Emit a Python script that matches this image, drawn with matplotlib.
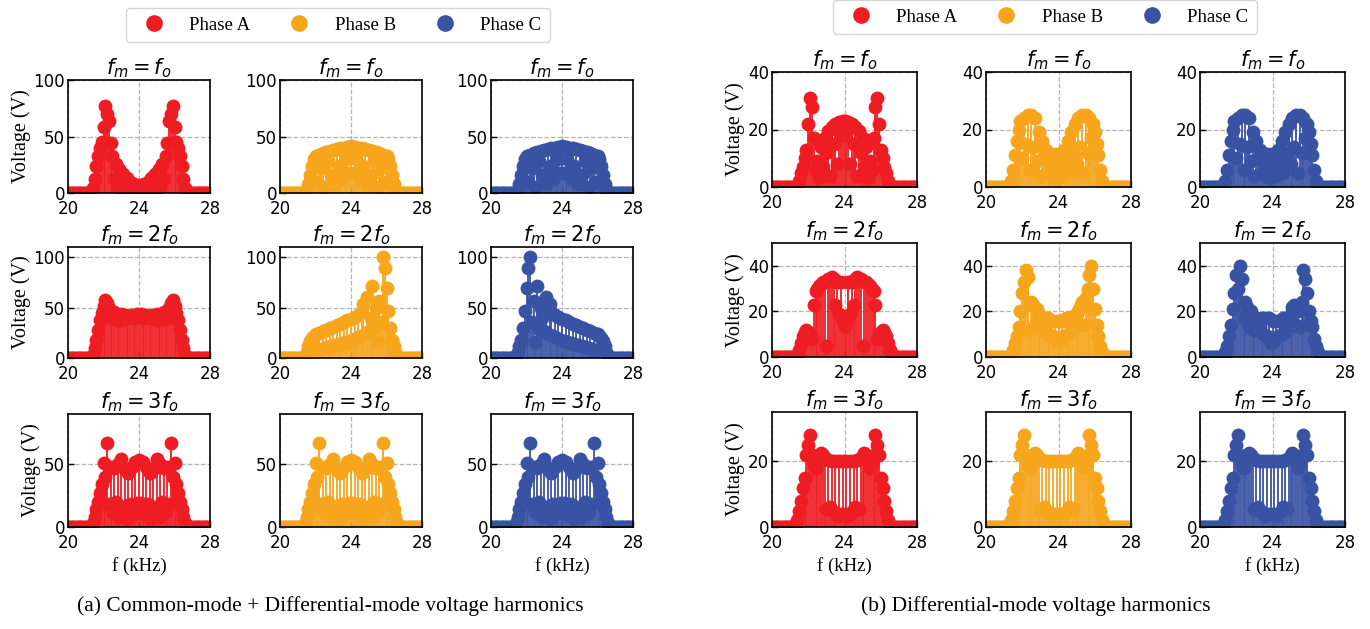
import numpy as np
import matplotlib
matplotlib.use("Agg")
import matplotlib.pyplot as plt

plt.rcParams['font.family'] = 'DejaVu Sans'
plt.rcParams['mathtext.fontset'] = 'dejavusans'

# harmonic frequencies in kHz, 0.1 kHz apart from 20 to 28
freq = np.arange(200, 281) / 10

# -----------------------------
# (a) common-mode + differential-mode harmonics (V)
# rows: 20.0-20.9 | 21.0-21.9 | ... | 26.0-26.9 | 27.0 | 27.1-28.0
# -----------------------------
cm_a1 = [0, 0, 0, 0, 0, 0, 0, 0, 0, 0,
         0, 0, 0, 0, 4, 12, 24, 33, 40, 45,
         58, 77, 70, 64, 44, 33, 12, 26, 5, 21,
         10, 17, 4, 13, 6, 10, 3, 8, 4, 7,
         6.5, 7, 4, 8, 3, 10, 6, 13, 4, 17,
         10, 21, 5, 26, 12, 33, 44, 64, 70, 77,
         58, 45, 40, 33, 24, 12, 4, 0, 0, 0,
         0,
         0, 0, 0, 0, 0, 0, 0, 0, 0, 0]

cm_b1 = [0, 0, 0, 0, 0, 0, 0, 0, 0, 0,
         0, 0, 0, 0, 0, 3, 8, 16, 24, 30,
         33, 10, 34, 22, 35, 5, 36, 28, 37, 16,
         38, 8, 39, 24, 40, 12, 40, 30, 41, 18,
         42, 18, 41, 30, 40, 12, 40, 24, 39, 8,
         38, 16, 37, 28, 36, 5, 35, 22, 34, 10,
         33, 30, 24, 16, 8, 3, 0, 0, 0, 0,
         0,
         0, 0, 0, 0, 0, 0, 0, 0, 0, 0]

cm_c1 = list(cm_b1)  # phase C reads the same as phase B here

cm_a2 = [0, 0, 0, 0, 0, 0, 0, 0, 0, 0,
         0, 0, 0, 0, 3, 10, 18, 28, 38, 45,
         52, 57, 55, 50, 44, 40, 46, 39, 43, 38,
         44, 39, 43, 40, 42, 41, 43, 40, 42, 44,
         43, 44, 42, 40, 43, 41, 42, 40, 43, 39,
         44, 38, 43, 39, 46, 40, 44, 50, 55, 57,
         52, 45, 38, 28, 18, 10, 3, 0, 0, 0,
         0,
         0, 0, 0, 0, 0, 0, 0, 0, 0, 0]

cm_b2 = [0, 0, 0, 0, 0, 0, 0, 0, 0, 0,
         0, 0, 0, 0, 2, 6, 12, 17, 20, 22,
         24, 8, 25, 9, 27, 10, 28, 11, 30, 12,
         31, 13, 33, 14, 34, 15, 36, 16, 38, 17,
         39, 18, 41, 20, 43, 22, 46, 54, 24, 60,
         27, 40, 71, 29, 50, 16, 56, 36, 100, 89,
         69, 47, 30, 18, 12, 6, 2, 0, 0, 0,
         0,
         0, 0, 0, 0, 0, 0, 0, 0, 0, 0]

cm_c2 = [0, 0, 0, 0, 0, 0, 0, 0, 0, 0,
         0, 0, 0, 0, 2, 6, 12, 18, 30, 47,
         69, 89, 100, 36, 56, 16, 71, 29, 50, 40,
         27, 60, 24, 54, 46, 22, 43, 20, 41, 18,
         39, 17, 38, 16, 36, 15, 34, 14, 33, 13,
         31, 12, 30, 11, 28, 10, 27, 9, 25, 8,
         24, 22, 20, 17, 12, 6, 2, 0, 0, 0,
         0,
         0, 0, 0, 0, 0, 0, 0, 0, 0, 0]

cm_a3 = [0, 0, 0, 0, 0, 0, 0, 0, 0, 0,
         0, 0, 0, 0, 3, 8, 14, 20, 27, 34,
         51, 40, 67, 18, 48, 12, 47, 20, 50, 8,
         54, 16, 46, 6, 43, 18, 48, 10, 52, 19,
         53, 19, 52, 10, 48, 18, 43, 6, 46, 16,
         54, 8, 50, 20, 47, 12, 48, 18, 67, 40,
         51, 34, 27, 20, 14, 8, 3, 0, 0, 0,
         0,
         0, 0, 0, 0, 0, 0, 0, 0, 0, 0]

cm_b3 = list(cm_a3)  # all three phases look alike at fm = 3fo
cm_c3 = list(cm_a3)

# -----------------------------
# (b) differential-mode harmonics (V)
# -----------------------------
dm_a1 = [0, 0, 0, 0, 0, 0, 0, 0, 0, 0,
         0, 0, 0, 0, 0, 2, 5, 7, 10, 13,
         22, 31, 28, 17, 6, 9, 3, 14, 7, 17,
         12, 19.5, 4, 21, 15, 22, 8, 22.7, 18, 23,
         23, 18, 22.7, 8, 22, 15, 21, 4, 19.5, 12,
         17, 7, 14, 3, 9, 6, 17, 28, 31, 22,
         13, 10, 7, 5, 2, 0, 0, 0, 0, 0,
         0,
         0, 0, 0, 0, 0, 0, 0, 0, 0, 0]

dm_b1 = [0, 0, 0, 0, 0, 0, 0, 0, 0, 0,
         0, 0, 0, 0, 2, 6, 11, 16, 20, 23,
         10, 24, 15, 25, 6, 25, 14, 24, 9, 19,
         4, 16, 10, 13, 5, 11.5, 8, 11.5, 3, 11.5,
         7, 11.5, 4, 13, 9, 16, 5, 19, 12, 22,
         8, 24, 14, 25, 5, 25, 12, 24, 17, 22,
         19, 15, 11, 6, 2, 0, 0, 0, 0, 0,
         0,
         0, 0, 0, 0, 0, 0, 0, 0, 0, 0]

dm_c1 = list(dm_b1)

dm_a2 = [0, 0, 0, 0, 0, 0, 0, 0, 0, 0,
         0, 0, 0, 0, 1, 3, 6, 9, 11, 12,
         11, 10, 8, 23, 29, 30, 31, 32, 33, 33,
         5, 34, 34, 35, 34, 23, 33, 19, 33, 16,
         13.5, 16, 33, 19, 33, 23, 34, 35, 34, 34,
         5, 33, 33, 32, 31, 30, 29, 23, 8, 10,
         11, 12, 11, 9, 6, 3, 1, 0, 0, 0,
         0,
         0, 0, 0, 0, 0, 0, 0, 0, 0, 0]

dm_b2 = [0, 0, 0, 0, 0, 0, 0, 0, 0, 0,
         0, 0, 0, 0, 1, 3, 6, 9, 13, 20,
         28, 33, 38, 35, 12, 24, 23, 14, 21, 19,
         13, 17, 16, 11, 17, 10, 16, 9, 16, 7,
         16, 7, 16, 9, 17, 10, 17, 12, 18, 13,
         19, 20, 22, 24, 14, 26, 30, 36, 40, 30,
         21, 14, 9, 5, 2, 0, 0, 0, 0, 0,
         0,
         0, 0, 0, 0, 0, 0, 0, 0, 0, 0]

dm_c2 = [0, 0, 0, 0, 0, 0, 0, 0, 0, 0,
         0, 0, 0, 0, 2, 5, 9, 14, 21, 28,
         36, 30, 40, 34, 17, 24, 22, 13, 20, 18,
         12, 17, 16, 13, 17, 10, 17, 9, 17, 6,
         16, 7, 16, 9, 16, 10, 17, 11, 17, 13,
         19, 22, 23, 14, 20, 13, 24, 38, 34, 28,
         20, 16, 13, 8, 5, 2, 0, 0, 0, 0,
         0,
         0, 0, 0, 0, 0, 0, 0, 0, 0, 0]

dm_a3 = [0, 0, 0, 0, 0, 0, 0, 0, 0, 0,
         0, 0, 0, 0, 2, 5, 8, 12, 15, 22,
         25, 28, 22, 19, 18, 20, 21, 22.6, 22, 21,
         5.5, 20.5, 6, 20, 4.5, 20, 3.5, 20, 4, 20,
         4, 20, 3.5, 20, 4.5, 20, 6, 20.5, 5.5, 21,
         22, 22.6, 21, 20, 18, 19, 22, 28, 25, 22,
         15, 12, 8, 5, 2, 0, 0, 0, 0, 0,
         0,
         0, 0, 0, 0, 0, 0, 0, 0, 0, 0]

dm_b3 = list(dm_a3)
dm_c3 = list(dm_a3)

phases = ['Phase A', 'Phase B', 'Phase C']
colors = ['#ee1d23', '#f6a51d', '#3953a4']
titles = [r'$f_m = f_o$', r'$f_m = 2f_o$', r'$f_m = 3f_o$']

# figure in pixels
W, H = 1370, 629
fig = plt.figure(figsize=(W / 100, H / 100), dpi=100)

groups = [
    {
        'data': [[cm_a1, cm_b1, cm_c1], [cm_a2, cm_b2, cm_c2], [cm_a3, cm_b3, cm_c3]],
        'cols': [68, 280, 491], 'width': 142,
        'rows': [(80, 193), (247, 358), (414, 527)],
        'ylim': [100, 110, 90],
        'yticks': [[0, 50, 100], [0, 50, 100], [0, 50]],
        'legend': (338, 25),
        'caption': (330, '(a) Common-mode + Differential-mode voltage harmonics'),
    },
    {
        'data': [[dm_a1, dm_b1, dm_c1], [dm_a2, dm_b2, dm_c2], [dm_a3, dm_b3, dm_c3]],
        'cols': [772, 986, 1200], 'width': 145,
        'rows': [(72, 187), (243, 357), (412, 527)],
        'ylim': [40, 50, 35],
        'yticks': [[0, 20, 40], [0, 20, 40], [0, 20]],
        'legend': (1045, 17),
        'caption': (1036, '(b) Differential-mode voltage harmonics'),
    },
]

serif = {'family': 'Liberation Serif'}

for g in groups:
    handles = []
    for r, (top, bottom) in enumerate(g['rows']):
        for c, x0 in enumerate(g['cols']):
            ax = fig.add_axes([x0 / W, 1 - bottom / H, g['width'] / W, (bottom - top) / H])
            vals = g['data'][r][c]

            markerline, stemlines, baseline = ax.stem(freq, vals, basefmt=' ')
            markerline.set_color(colors[c])
            markerline.set_markersize(10)
            markerline.set_markeredgewidth(0)
            stemlines.set_color(colors[c])
            stemlines.set_linewidth(1.3)
            if r == 0:
                handles.append(markerline)

            ax.set_xlim(20, 28)
            ax.set_ylim(0, g['ylim'][r])
            ax.set_xticks([20, 24, 28])
            ax.set_yticks(g['yticks'][r])
            ax.tick_params(direction='in', length=4, width=1, labelsize=12)
            ax.tick_params(axis='x', pad=5)
            ax.tick_params(axis='y', pad=2)
            ax.grid(True, ls='--', color='#b5b5b5', lw=0.9)
            ax.set_axisbelow(True)
            for s in ax.spines.values():
                s.set_linewidth(1.2)
            ax.set_title(titles[r], fontsize=15, pad=4)

            if c == 0:
                ax.set_ylabel('Voltage (V)', fontdict=serif, fontsize=14.5, labelpad=2)
            if r == 2 and c != 1:
                ax.set_xlabel('f (kHz)', fontdict=serif, fontsize=13.5, labelpad=4)

    lx, ly = g['legend']
    fig.legend(handles, phases, loc='center', bbox_to_anchor=(lx / W, 1 - ly / H),
               ncol=3, prop={'family': 'Liberation Serif', 'size': 13.5},
               frameon=True, fancybox=True, edgecolor='#cccccc', markerscale=1.2,
               columnspacing=1.6, handletextpad=0.9, borderpad=0.45)

    cx, text = g['caption']
    fig.text(cx / W, 1 - 606 / H, text, ha='center', va='center',
             family='Liberation Serif', fontsize=15.5)

plt.savefig("out.png", dpi=100)
